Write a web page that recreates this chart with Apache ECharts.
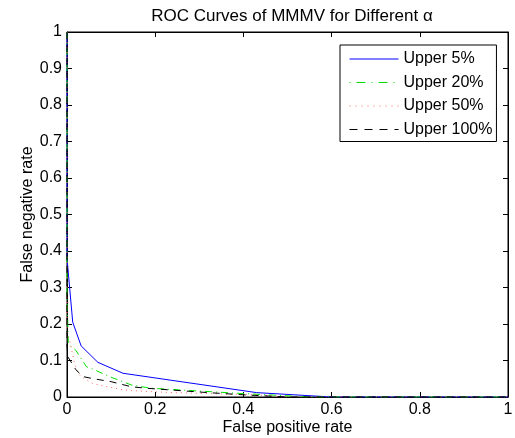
<!DOCTYPE html>
<html lang="en">
<head>
    <meta charset="UTF-8">
    <title>ROC Curves of MMMV</title>
    <script src="https://cdn.jsdelivr.net/npm/echarts@6/dist/echarts.min.js"></script>
    <style>
        html, body { margin: 0; padding: 0; background: #fff; }
    </style>
</head>
<body>
    <div id="main" style="width: 515px; height: 438px;"></div>
    <script>
        // series names
        const names = ['Upper 5%', 'Upper 20%', 'Upper 50%', 'Upper 100%'];

        // [false positive rate, false negative rate]
        const upper5 = [[0, 1], [0, 0.38], [0.013, 0.205], [0.032, 0.14], [0.07, 0.095], [0.127, 0.065],
            [0.43, 0.012], [0.6, 0], [1, 0]];
        const upper20 = [[0, 1], [0, 0.28], [0.003, 0.145], [0.02, 0.128], [0.044, 0.083], [0.056, 0.078],
            [0.096, 0.056], [0.146, 0.033], [0.19, 0.024], [0.39, 0.01], [0.47, 0.005], [0.55, 0], [1, 0]];
        const upper50 = [[0, 1], [0, 0.17], [0.005, 0.16], [0.017, 0.093], [0.025, 0.065], [0.032, 0.056],
            [0.058, 0.037], [0.096, 0.027], [0.13, 0.019], [0.17, 0.016], [0.24, 0.012], [0.43, 0.006],
            [0.5, 0], [1, 0]];
        const upper100 = [[0, 1], [0, 0.14], [0.002, 0.11], [0.02, 0.075], [0.036, 0.056], [0.06, 0.05],
            [0.1, 0.042], [0.146, 0.028], [0.18, 0.024], [0.32, 0.012], [0.4, 0.006], [0.5, 0], [1, 0]];

        const colors = ['#0000ff', '#00e000', '#ff6666', '#000000'];
        const dashes = ['solid', [7, 4, 1, 4], [1, 4], [7, 6]];
        const legendDashes = ['solid', [1, 6, 9, 6], [1, 5], [8, 7]];

        const font = 'Liberation Sans, Arial, Helvetica, sans-serif';

        var myChart = echarts.init(document.getElementById('main'));

        function fmt(v) { return String(+v.toFixed(1)); }

        function axis(pos, showLabel, extra) {
            return Object.assign({
                type: 'value',
                position: pos,
                min: 0,
                max: 1,
                axisLine: { show: true, onZero: false, lineStyle: { color: '#000', width: 1 } },
                axisTick: { show: true, inside: true, length: 5, lineStyle: { color: '#000' } },
                axisLabel: {
                    show: showLabel,
                    color: '#000',
                    fontSize: 16,
                    fontFamily: font,
                    margin: 5,
                    formatter: fmt
                },
                splitLine: { show: false }
            }, extra);
        }

        function line(i, data) {
            return {
                name: names[i],
                type: 'line',
                data: data,
                symbol: 'none',
                lineStyle: { color: colors[i], width: 1, type: dashes[i] },
                itemStyle: { color: colors[i] },
                xAxisIndex: 0,
                yAxisIndex: 0
            };
        }

        const nameStyle = { fontSize: 16, color: '#000', fontFamily: font };

        const option = {
            animation: false,
            backgroundColor: '#fff',
            title: {
                text: 'ROC Curves of MMMV for Different α',
                left: 287,
                top: 3,
                textAlign: 'center',
                textStyle: { fontSize: 17, fontWeight: 'normal', color: '#000', fontFamily: font }
            },
            legend: {
                data: names.map(function (n, i) {
                    return {
                        name: n,
                        itemStyle: { opacity: 0 },
                        lineStyle: { color: colors[i], width: 1, type: legendDashes[i] }
                    };
                }),
                orient: 'vertical',
                left: 340,
                top: 45,
                itemWidth: 49,
                itemHeight: 15,
                itemGap: 7.5,
                padding: [6, 4, 4, 9],
                borderColor: '#000',
                borderWidth: 1,
                backgroundColor: '#fff',
                textStyle: { fontSize: 16, color: '#000', fontFamily: font }
            },
            grid: {
                left: 67,
                right: 7,
                top: 32,
                bottom: 41,
                outerBoundsMode: 'none',
                show: true,
                borderColor: '#000',
                borderWidth: 1,
                backgroundColor: 'transparent'
            },
            xAxis: [
                axis('bottom', true, {
                    interval: 0.2,
                    name: 'False positive rate',
                    nameLocation: 'middle',
                    nameGap: 23,
                    nameMoveOverlap: false,
                    nameTextStyle: nameStyle
                }),
                axis('top', false, { interval: 0.2 })
            ],
            yAxis: [
                axis('left', true, {
                    interval: 0.1,
                    name: 'False negative rate',
                    nameLocation: 'middle',
                    nameGap: 31,
                    nameMoveOverlap: false,
                    nameTextStyle: nameStyle
                }),
                axis('right', false, { interval: 0.1 })
            ],
            series: [
                line(0, upper5),
                line(1, upper20),
                line(2, upper50),
                line(3, upper100)
            ]
        };
        myChart.setOption(option);
    </script>
</body>
</html>
